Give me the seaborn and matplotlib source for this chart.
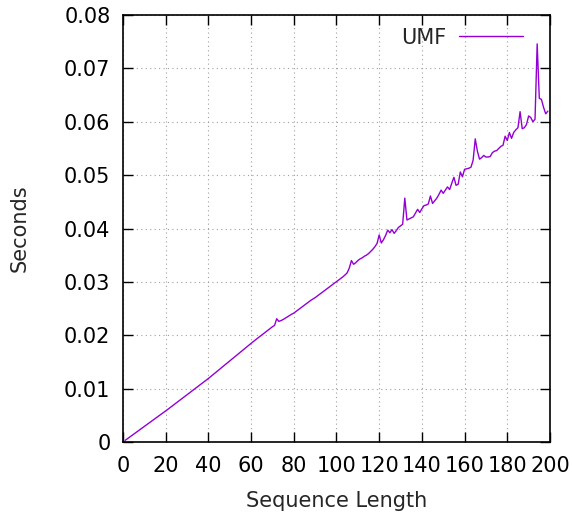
import numpy as np
import pandas as pd
import matplotlib
matplotlib.use("Agg")
import matplotlib.pyplot as plt
import seaborn as sns

# --- Dados (tempo em milissegundos) ---
SEQ_LEN = list(range(1, 200))
UMF_MS = [
    0.30, 0.58, 0.88, 1.17, 1.47, 1.76, 2.05, 2.33, 2.63, 2.92,
    3.20, 3.50, 3.79, 4.08, 4.36, 4.66, 4.95, 5.24, 5.52, 5.82,
    6.12, 6.43, 6.73, 7.04, 7.34, 7.64, 7.95, 8.25, 8.56, 8.86,
    9.16, 9.47, 9.77, 10.08, 10.38, 10.68, 10.99, 11.29, 11.60, 11.90,
    12.23, 12.56, 12.89, 13.22, 13.55, 13.88, 14.21, 14.54, 14.87, 15.20,
    15.53, 15.86, 16.19, 16.52, 16.85, 17.18, 17.51, 17.84, 18.17, 18.50,
    18.81, 19.12, 19.43, 19.74, 20.05, 20.36, 20.67, 20.98, 21.29, 21.60,
    21.85, 23.10, 22.60, 22.75, 22.95, 23.20, 23.45, 23.70, 23.95, 24.15,
    24.45, 24.75, 25.05, 25.35, 25.65, 25.95, 26.25, 26.55, 26.80, 27.05,
    27.35, 27.65, 27.95, 28.25, 28.55, 28.85, 29.15, 29.45, 29.75, 30.05,
    30.35, 30.65, 30.95, 31.30, 31.70, 32.60, 34.00, 33.30, 33.60, 34.00,
    34.30, 34.50, 34.80, 35.00, 35.30, 35.70, 36.10, 36.60, 37.20, 38.80,
    37.30, 37.90, 38.70, 39.70, 39.20, 39.80, 39.10, 39.60, 40.20, 40.50,
    40.80, 45.70, 41.60, 41.80, 42.00, 42.20, 42.90, 43.60, 43.00, 43.70,
    44.30, 44.40, 44.60, 46.10, 44.70, 45.20, 45.70, 46.40, 47.20, 46.60,
    47.20, 47.80, 47.30, 48.50, 49.60, 48.10, 48.30, 50.60, 49.70, 51.10,
    51.20, 51.30, 51.50, 52.80, 56.80, 54.50, 53.00, 53.30, 53.70, 53.40,
    53.40, 53.50, 54.20, 54.50, 54.60, 55.00, 55.40, 55.60, 57.30, 56.50,
    58.00, 56.90, 58.00, 58.50, 58.90, 61.90, 58.70, 58.90, 59.50, 61.10,
    60.80, 60.00, 60.50, 74.60, 64.40, 64.20, 62.70, 61.50, 62.00,
]
X_TICKS = list(range(0, 201, 20))
Y_TICKS = [0, 0.01, 0.02, 0.03, 0.04, 0.05, 0.06, 0.07, 0.08]
Y_LABELS = ["0", "0.01", "0.02", "0.03", "0.04", "0.05", "0.06", "0.07", "0.08"]

COR = "#9400d3"
FS = 15

df = pd.DataFrame({"len": SEQ_LEN, "seconds": np.array(UMF_MS) / 1000.0})

sns.set_style("ticks")
plt.rcParams["font.family"] = ["DejaVu Sans"]

fig = plt.figure(figsize=(5.72, 5.2), dpi=100)
ax = fig.add_axes([0.215, 0.15, 0.7465, 0.821])

sns.lineplot(data=df, x="len", y="seconds", color=COR, linewidth=1.0, label="UMF", ax=ax)

ax.set_xlim(0, 200)
ax.set_ylim(0, 0.08)
ax.set_xticks(X_TICKS)
ax.set_yticks(Y_TICKS)
ax.set_yticklabels(Y_LABELS)
ax.tick_params(direction="in", length=7, width=1, top=True, right=True,
               labelsize=FS, colors="black")
ax.tick_params(axis="x", pad=10)
ax.tick_params(axis="y", pad=9)
ax.grid(True, color="#a0a0a0", linestyle=(0, (1, 3)), linewidth=0.8)
for s in ax.spines.values():
    s.set_linewidth(1.2)
    s.set_color("black")

ax.set_xlabel("Sequence Length", fontsize=FS, labelpad=11)
ax.set_ylabel("Seconds", fontsize=FS, labelpad=25)

leg = ax.legend(loc="upper right", frameon=False, markerfirst=False, fontsize=FS,
                handlelength=3.1, handletextpad=0.6, borderaxespad=0.2,
                bbox_to_anchor=(0.967, 1.0))

fig.savefig("out.png", dpi=100)
